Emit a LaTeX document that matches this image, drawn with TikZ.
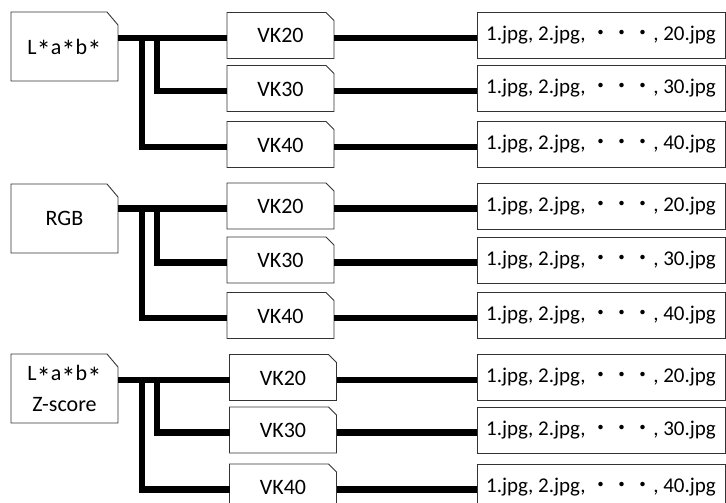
\documentclass[tikz,border=0pt]{standalone}
\usepackage{fontspec}
\usepackage{graphicx}
\setmainfont{Carlito}
\newfontfamily\cjk{Noto Sans CJK JP}
\usetikzlibrary{calc}
\newcommand\stark{\raisebox{-0.3em}[0.6em][0pt]{\scalebox{1.3}{*}}}
\newcommand\cutframe[3]{\draw[boxline] (#1.south west) -- (#1.north west) -- ([xshift=-#2]#1.north east) -- ([yshift=-#3]#1.north east) -- (#1.south east) -- cycle;}
\begin{document}
\begin{tikzpicture}[x=1pt,y=-1pt,
 boxline/.style={line width=0.9pt, draw=black!80},
 txt/.style={inner sep=0pt, outer sep=0pt, font=\fontsize{22}{27}\selectfont},
 lab/.style={txt, minimum width=107pt, minimum height=69pt, align=center},
 vk/.style={txt, minimum width=107pt, minimum height=46pt, text height=15pt, text depth=0pt},
 jpg/.style={txt, boxline, draw, minimum width=248pt, minimum height=46pt, font=\fontsize{21}{25}\selectfont},
 wire/.style={line width=6.5pt, black}]
\useasboundingbox (0,0) rectangle (726,503);
\clip (0,0) rectangle (726,503);
\fill[white] (0,0) rectangle (726,503);
\foreach \g/\ly/\ya/\yb/\yc/\vx/\lt in {a/46.5/35.5/88.5/144.5/280.5/{L\stark a\stark b\stark}, b/218.5/206/260/315.5/280.5/{RGB}, c/388.5/377.5/430/487/283/{L\stark a\stark b\stark\\[4pt]Z-score}} {
  \node[lab] (\g L) at (64.5,\ly) {\lt};
  \cutframe{\g L}{11pt}{13pt}
  \node[vk] (\g 1) at (\vx,\ya) {VK20};
  \node[vk] (\g 2) at (\vx,\yb) {VK30};
  \node[vk] (\g 3) at (\vx,\yc) {VK40};
  \cutframe{\g 1}{8pt}{8pt}
  \cutframe{\g 2}{8pt}{8pt}
  \cutframe{\g 3}{8pt}{8pt}
  \node[jpg] (\g J1) at (601,\ya) {1.jpg, 2.jpg, {\cjk ・・・}, 20.jpg};
  \node[jpg] (\g J2) at (601,\yb) {1.jpg, 2.jpg, {\cjk ・・・}, 30.jpg};
  \node[jpg] (\g J3) at (601,\yc) {1.jpg, 2.jpg, {\cjk ・・・}, 40.jpg};
  \coordinate (\g w1) at ([yshift=-2.5pt]\g 1.west);
  \coordinate (\g w2) at ([yshift=-2.5pt]\g 2.west);
  \coordinate (\g w3) at ([yshift=-2.5pt]\g 3.west);
  \draw[wire] (\g L.east |- \g w1) -- (\g w1);
  \draw[wire] ($(\g L.east |- \g w1)+(39,0)$) |- (\g w2);
  \draw[wire] ($(\g L.east |- \g w1)+(24,0)$) |- (\g w3);
  \draw[wire] (\g 1.east |- \g w1) -- (\g J1.west |- \g w1);
  \draw[wire] (\g 2.east |- \g w2) -- (\g J2.west |- \g w2);
  \draw[wire] (\g 3.east |- \g w3) -- (\g J3.west |- \g w3);
}
\end{tikzpicture}
\end{document}
